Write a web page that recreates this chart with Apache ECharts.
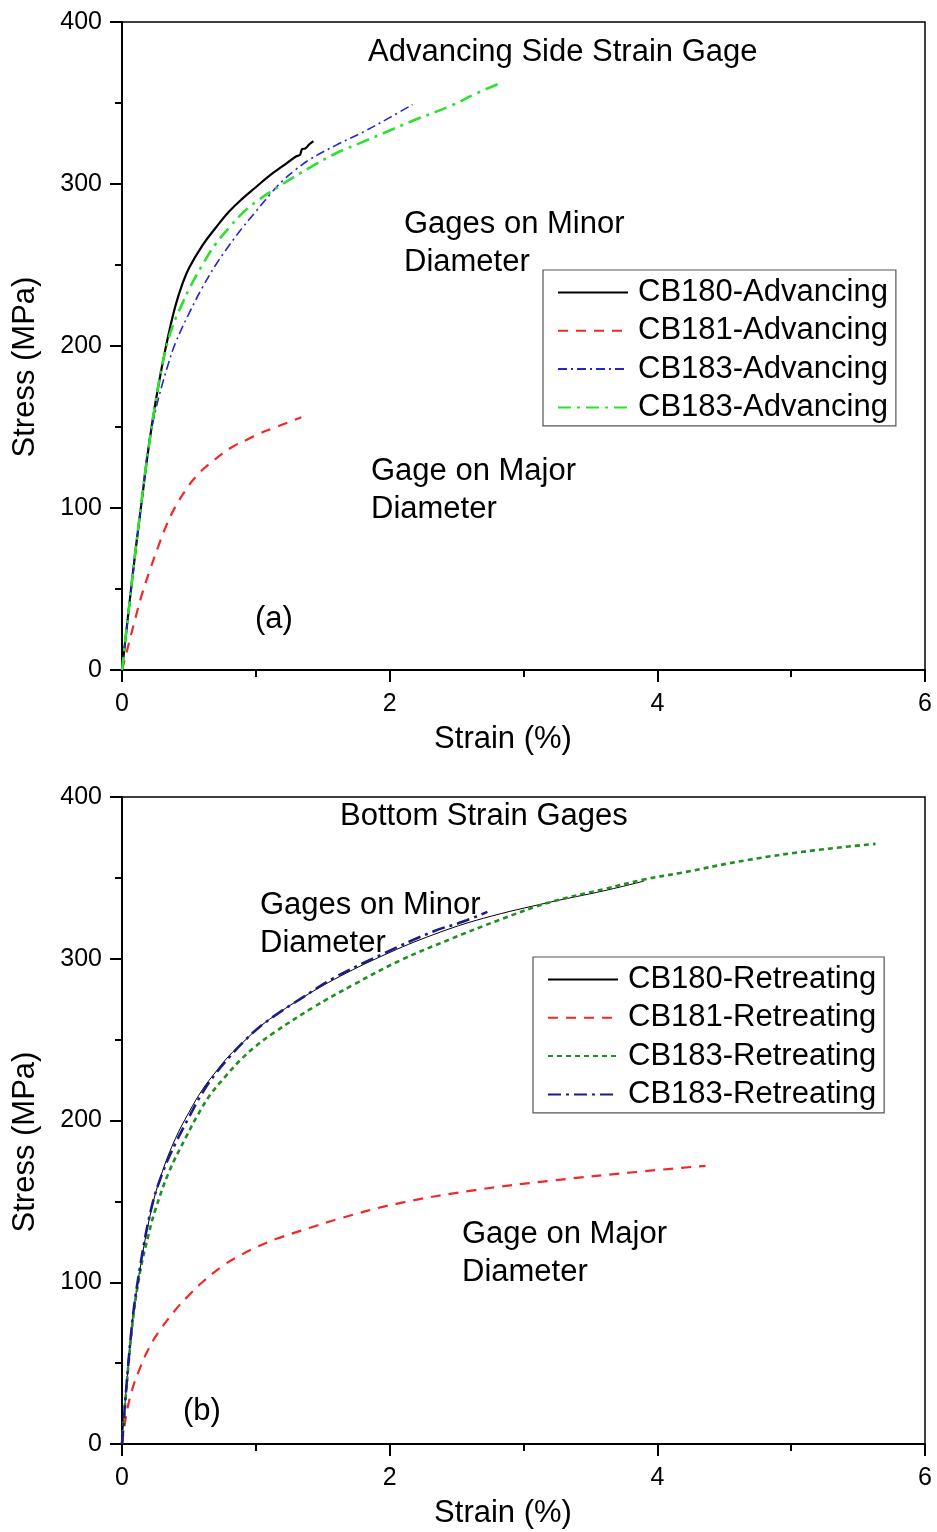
<!DOCTYPE html>
<html>
<head>
<meta charset="utf-8">
<script src="https://cdn.jsdelivr.net/npm/echarts@6/dist/echarts.min.js"></script>
<style>
  html, body { margin: 0; padding: 0; background: #ffffff; }
  #chart { width: 937px; height: 1532px; }
</style>
</head>
<body>
<div id="chart"></div>
<script>
// ---- Panel (a): advancing side strain gages (strain %, stress MPa) ----
const aCB180Strain = [0, 0.05, 0.1, 0.15, 0.2, 0.25, 0.3, 0.35, 0.4, 0.45, 0.5, 0.6, 0.7, 0.8, 0.9, 1.0, 1.1, 1.2, 1.3, 1.33, 1.345, 1.37, 1.4, 1.43];
const aCB180Stress = [0, 37, 73, 106, 138, 165, 188, 208, 225, 238, 248, 262, 273, 283, 291, 298, 305, 311, 317, 318, 321.5, 322, 324.5, 326.5];

const aCB181Strain = [0, 0.05, 0.1, 0.15, 0.21, 0.27, 0.33, 0.4, 0.5, 0.56, 0.62, 0.68, 0.75, 0.83, 0.93, 1.03, 1.13, 1.23, 1.34];
const aCB181Stress = [0, 16, 32, 47, 62, 76, 89, 101, 114, 120, 125, 129, 133.5, 138, 142, 146, 149.3, 152.5, 156];

const aCB183BlueStrain = [0, 0.05, 0.1, 0.15, 0.2, 0.25, 0.3, 0.35, 0.4, 0.5, 0.6, 0.7, 0.8, 0.9, 1.0, 1.1, 1.2, 1.3, 1.4, 1.6, 1.8, 2.0, 2.17];
const aCB183BlueStress = [0, 36, 72, 107, 140, 160, 176, 190, 202, 220, 236, 250, 262, 273, 283, 293, 302, 309, 315, 324, 332, 341, 349];

const aCB183GreenStrain = [0, 0.05, 0.1, 0.15, 0.2, 0.25, 0.3, 0.35, 0.4, 0.45, 0.5, 0.6, 0.7, 0.8, 0.9, 1.0, 1.2, 1.4, 1.6, 1.8, 2.0, 2.2, 2.45, 2.65, 2.85];
const aCB183GreenStress = [0, 37, 73, 107, 138, 165, 188, 205, 217, 226, 235, 250, 263, 273, 282, 289, 300, 310, 319, 326, 333, 340, 348, 356, 363];

// ---- Panel (b): bottom (retreating) strain gages ----
const bCB180Strain = [0, 0.07, 0.13, 0.22, 0.3, 0.4, 0.5, 0.6, 0.7, 0.8, 0.9, 1.03, 1.18, 1.33, 1.58, 1.95, 2.33, 2.7, 3.2, 3.6, 3.9];
const bCB180Stress = [0, 70, 106, 145, 168, 189, 205, 219, 230, 240, 248, 258, 267, 275, 287, 302, 315, 325, 335, 342, 348];

const bCB181Strain = [0, 0.03, 0.07, 0.13, 0.2, 0.28, 0.4, 0.5, 0.6, 0.75, 0.87, 1.0, 1.16, 1.4, 1.61, 2.05, 2.64, 3.23, 3.82, 4.36];
const bCB181Stress = [0, 17, 32, 46, 59, 70, 83, 92, 100, 110, 116, 121.5, 127, 133.5, 139, 148.5, 157, 163, 168, 172];

const bCB183GreenStrain = [0, 0.07, 0.13, 0.2, 0.25, 0.35, 0.48, 0.57, 0.66, 0.77, 0.88, 1.0, 1.13, 1.43, 1.73, 2.08, 2.45, 2.82, 3.2, 3.6, 3.9, 4.17, 4.67, 5.17, 5.63];
const bCB183GreenStress = [0, 68, 104, 130, 145, 168, 190, 204, 216, 227, 237, 246, 254, 270, 284, 299, 312, 324, 335, 343, 349, 353, 361, 367, 371];

const bCB183NavyStrain = [0, 0.07, 0.13, 0.22, 0.3, 0.4, 0.5, 0.6, 0.7, 0.8, 0.9, 1.03, 1.18, 1.33, 1.58, 1.95, 2.33, 2.55, 2.73];
const bCB183NavyStress = [0, 70, 107, 146, 167, 186, 202, 217, 229, 239, 248, 258, 267, 275, 288, 303, 317, 323, 329];

// Legend labels (two specimens share a label, so series keep distinct ids)
const legendA = ['CB180-Advancing', 'CB181-Advancing', 'CB183-Advancing', 'CB183-Advancing'];
const legendB = ['CB180-Retreating', 'CB181-Retreating', 'CB183-Retreating', 'CB183-Retreating'];

// Axis ticks
const strainMin = 0, strainMax = 6, strainStep = 2;
const stressMin = 0, stressMax = 400, stressStep = 100;

const FONT = 'Arial, "Liberation Sans", Helvetica, sans-serif';
const TXT = 31;

function zip(xs, ys) { return xs.map((x, i) => [x, ys[i]]); }

function lineSeries(key, grid, xs, ys, color, width, dash) {
  return {
    name: key, type: 'line', xAxisIndex: grid, yAxisIndex: grid,
    data: zip(xs, ys), showSymbol: false, symbol: 'none',
    smooth: 0.4,
    lineStyle: { color: color, width: width, type: dash },
    itemStyle: { color: color },
    animation: false, z: 3
  };
}

function xAxisCfg(grid) {
  return {
    type: 'value', gridIndex: grid, min: strainMin, max: strainMax, interval: strainStep,
    axisLine: { show: true, onZero: false, lineStyle: { color: '#000', width: 2 } },
    axisTick: { show: true, inside: false, length: 12, lineStyle: { color: '#000', width: 2 } },
    minorTick: { show: true, splitNumber: 2, length: 7, lineStyle: { color: '#000', width: 2 } },
    axisLabel: { fontFamily: FONT, fontSize: 25, color: '#000', margin: 22 },
    splitLine: { show: false }
  };
}

function yAxisCfg(grid) {
  return {
    type: 'value', gridIndex: grid, min: stressMin, max: stressMax, interval: stressStep,
    axisLine: { show: true, onZero: false, lineStyle: { color: '#000', width: 2 } },
    axisTick: { show: true, inside: false, length: 12, lineStyle: { color: '#000', width: 2 } },
    minorTick: { show: true, splitNumber: 2, length: 7, lineStyle: { color: '#000', width: 2 } },
    axisLabel: { fontFamily: FONT, fontSize: 25, color: '#000', margin: 20 },
    splitLine: { show: false }
  };
}

function legendCfg(keys, labels, left, top) {
  return {
    orient: 'vertical', left: left, top: top,
    data: keys, selectedMode: false,
    formatter: name => labels[keys.indexOf(name)],
    itemWidth: 70, itemHeight: 14, itemGap: 7.3,
    padding: [7, 8, 3, 14],
    itemStyle: { color: 'rgba(0,0,0,0)', borderColor: 'rgba(0,0,0,0)', borderWidth: 0, opacity: 0 },
    borderColor: '#555', borderWidth: 1.2, backgroundColor: '#fff',
    textStyle: { fontFamily: FONT, fontSize: TXT, color: '#000', lineHeight: 30, padding: [0, 0, 0, 5] }
  };
}

function label(text, x, y) {
  return {
    type: 'text', x: x, y: y, z: 10,
    style: { text: text, font: TXT + 'px ' + FONT, fill: '#000', verticalAlign: 'middle', align: 'left' }
  };
}

function centered(text, x, y, rot) {
  return {
    type: 'text', x: x, y: y, rotation: rot || 0, z: 10,
    style: { text: text, font: TXT + 'px ' + FONT, fill: '#000', verticalAlign: 'middle', align: 'center' }
  };
}

const keysA = ['a180', 'a181', 'a183b', 'a183g'];
const keysB = ['b180', 'b181', 'b183g', 'b183n'];

const option = {
  backgroundColor: '#ffffff',
  animation: false,
  grid: [
    { left: 122, right: 12, top: 22, height: 648, show: true, borderColor: '#000', borderWidth: 1.5, backgroundColor: 'transparent' },
    { left: 122, right: 12, top: 797, height: 647, show: true, borderColor: '#000', borderWidth: 1.5, backgroundColor: 'transparent' }
  ],
  xAxis: [xAxisCfg(0), xAxisCfg(1)],
  yAxis: [yAxisCfg(0), yAxisCfg(1)],
  legend: [
    legendCfg(keysA, legendA, 543, 270),
    legendCfg(keysB, legendB, 533, 957)
  ],
  series: [
    lineSeries('a180', 0, aCB180Strain, aCB180Stress, '#000000', 2.2, 'solid'),
    lineSeries('a181', 0, aCB181Strain, aCB181Stress, '#f02828', 2.2, [10, 8]),
    lineSeries('a183b', 0, aCB183BlueStrain, aCB183BlueStress, '#2424d0', 1.6, [9, 4, 2, 4]),
    lineSeries('a183g', 0, aCB183GreenStrain, aCB183GreenStress, '#2fe02f', 2.6, [13, 6, 3, 6]),
    lineSeries('b180', 1, bCB180Strain, bCB180Stress, '#000000', 1, 'solid'),
    lineSeries('b181', 1, bCB181Strain, bCB181Stress, '#f02828', 2.2, [10, 8]),
    lineSeries('b183g', 1, bCB183GreenStrain, bCB183GreenStress, '#1f8f1f', 2.6, [5, 4]),
    lineSeries('b183n', 1, bCB183NavyStrain, bCB183NavyStress, '#1c1c86', 2.6, [13, 5, 3, 5])
  ],
  graphic: [
    // axis titles
    centered('Stress (MPa)', 25, 367, Math.PI / 2),
    centered('Strain (%)', 503, 739),
    centered('Stress (MPa)', 25, 1142, Math.PI / 2),
    centered('Strain (%)', 503, 1513),
    // annotations, panel (a)
    label('Advancing Side Strain Gage', 368, 52),
    label('Gages on Minor', 404, 224),
    label('Diameter', 404, 262),
    label('Gage on Major', 371, 471),
    label('Diameter', 371, 509),
    label('(a)', 255, 619),
    // annotations, panel (b)
    label('Bottom Strain Gages', 340, 816),
    label('Gages on Minor', 260, 905),
    label('Diameter', 260, 943),
    label('Gage on Major', 462, 1234),
    label('Diameter', 462, 1272),
    label('(b)', 183, 1411)
  ]
};

const chart = echarts.init(document.getElementById('chart'), null, { renderer: 'canvas' });
chart.setOption(option);
</script>
</body>
</html>
